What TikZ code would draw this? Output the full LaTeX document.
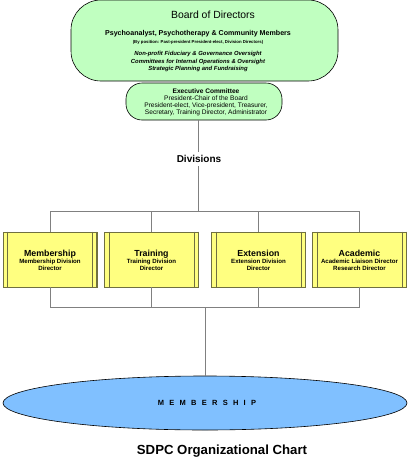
\documentclass[tikz,border=0pt]{standalone}
\usepackage{fontspec}
\setmainfont{Liberation Sans}
\definecolor{boardgreen}{HTML}{C0FFC0}
\definecolor{boxyellow}{HTML}{FFFF80}
\definecolor{boxedge}{HTML}{707040}
\definecolor{ellblue}{HTML}{80C0FF}
\definecolor{linegray}{HTML}{808080}
\tikzset{
  pill/.style={draw=black, fill=boardgreen, line width=0.6pt, align=center, inner sep=0pt},
  divbox/.style={draw=boxedge, fill=boxyellow, line width=0.6pt, minimum width=94pt, minimum height=55pt, inner sep=0pt, align=center},
  conn/.style={draw=linegray, line width=0.6pt},
}
\begin{document}
\begin{tikzpicture}[x=1pt,y=-1pt]
\useasboundingbox (0,0) rectangle (412,472);
% Board
\node[pill, rounded corners=30pt, minimum width=267pt, minimum height=81pt] (board) at (204.5,40.5) {};
\node[font=\fontsize{10.4}{11}\selectfont] (bt) at (213,15) {Board of Directors};
\node[font=\fontsize{7.1}{8}\bfseries] (b1) at (198,34) {Psychoanalyst, Psychotherapy \& Community Members};
\node[font=\fontsize{4.3}{5}\bfseries] (b2) at (198,42) {(By position: Past-president President-elect, Division Directors)};
\node[font=\fontsize{5.9}{7.5}\bfseries\itshape, align=center] (b3) at (198,61.5) {Non-profit Fiduciary \& Governance Oversight\\Committees for Internal Operations \& Oversight\\Strategic Planning and Fundraising};
% Executive
\node[pill, rounded corners=16pt, minimum width=156pt, minimum height=37pt] (exec) at (204,101.5) {};
\node[font=\fontsize{6.6}{7}\selectfont, align=center] (et) at (206,102.5) {\textbf{Executive Committee}\\President-Chair of the Board\\President-elect, Vice-president, Treasurer,\\Secretary, Training Director, Administrator};
% Divisions label
\node[font=\fontsize{10}{11}\bfseries] (divs) at (199,159) {Divisions};
\coordinate (t1) at (198,120);
\coordinate (t2) at (198,211);
\draw[conn] (t1) -- (divs.north -| t1);
\draw[conn] (divs.south -| t1) -- (t2);
% Boxes
\foreach \n/\x/\a/\b/\c in {mem/50/Membership/Membership Division/Director,
                           tra/151.5/Training/Training Division/Director,
                           ext/258.5/Extension/Extension Division/Director,
                           aca/359.5/Academic/Academic Liaison Director/Research Director}{
  \node[divbox] (\n) at (\x,259.5) {};
  \draw[boxedge, line width=0.6pt] ([xshift=5pt]\n.north west) -- ([xshift=5pt]\n.south west);
  \draw[boxedge, line width=0.6pt] ([xshift=-5pt]\n.north east) -- ([xshift=-5pt]\n.south east);
  \draw[boxedge, line width=1.2pt] ([xshift=-0.6pt]\n.north east) -- ([xshift=-0.6pt]\n.south east);
  \node[align=center, font=\fontsize{6.1}{7}\bfseries] (\n t) at (\x,260) {{\fontsize{8.8}{10}\selectfont \a}\\\b\\\c};
}
% top bar
\coordinate (tb) at (50,211);
\draw[conn] (mem.north) -- (tb) -- (tb -| aca.north) -- (aca.north);
\draw[conn] (tra.north) -- (tra.north |- tb);
\draw[conn] (ext.north) -- (ext.north |- tb);
% bottom bar
\coordinate (bb) at (50,307);
\draw[conn] (mem.south) -- (bb) -- (bb -| aca.south) -- (aca.south);
\draw[conn] (tra.south) -- (tra.south |- bb);
\draw[conn] (ext.south) -- (ext.south |- bb);
% ellipse
\fill[ellblue] (205,403) ellipse [x radius=202, y radius=27];
\draw[black, line width=0.6pt] (205,403) ellipse [x radius=202, y radius=27];
\coordinate (ellt) at (205,376);
\coordinate (bt2) at (205,307);
\draw[conn] (bt2) -- (ellt);
\node[font=\fontsize{7.5}{8}\bfseries\addfontfeature{LetterSpace=70}] (memb) at (207,403) {MEMBERSHIP};
% title
\node[font=\fontsize{13.2}{15}\bfseries] (title) at (222,451) {SDPC Organizational Chart};
\end{tikzpicture}
\end{document}
